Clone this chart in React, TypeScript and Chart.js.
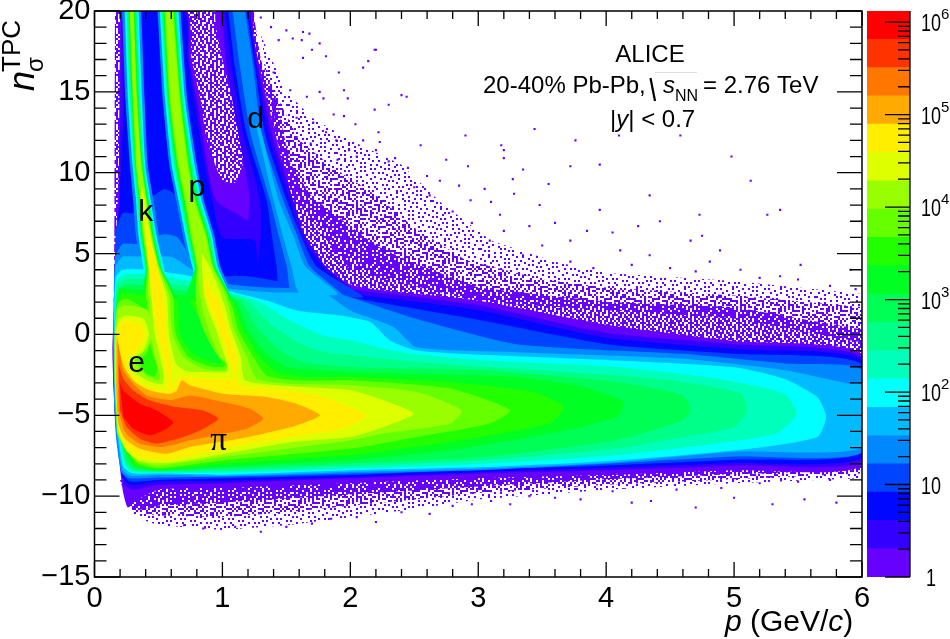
import React, { useEffect, useRef } from "react";
import { Chart, registerables } from "chart.js";
Chart.register(...registerables);

type Pt = number[];
const FONT = '"Liberation Sans", Arial, sans-serif';

const levelColors = ["#6600ff","#3300ff","#0008ff","#0044ff","#0088ff","#00bbff","#00ffff","#00ffbb","#00ff88","#00ff55","#00ff22","#22ff00","#66ff00","#99ff00","#ddff00","#ffee00","#ffaa00","#ff7700","#ff3300","#ff0000"];
const zEdges = [1,2.023,4.09,8.28,16.7,33.9,68.5,138.6,280,567,1148,2323,4699,9506,19230,38900,78700,159200,322000,651000,1318000];
const zDecades = [1,10,100,1000,10000,100000,1000000];
const particleLabels = [{t:"d",x:1.26,y:13.3},{t:"p",x:0.8,y:9.1},{t:"k",x:0.4,y:7.6},{t:"e",x:0.33,y:-1.75},{t:"π",x:0.97,y:-6.6}];

const stippleDense = [
"#.##.#..###.#.##..#.#.##",
".##.###.#.##.#..###.##.#",
"##.#..##.##.###.#.##..##",
"#.###.#..#.##.#.##.#.##.",
".#.#.###.##.#..##.###.#.",
"##.##.#.##..###.#..#.###",
"#..#.##.#.###.#.###.##.#",
".###.#.##.#.#.##.#.#.##.",
"##.#.##..##.#.#.##.###.#",
".#.##.#.###.##..#.#.#.##",
"#.#.###.#.#.#.###.##.#.#",
"###.#..##.###.#.#.#.##..",
".#.##.##.#.#.##.##.#.###",
"#.##.#.#.###.#..#.###.#.",
"##.#.###.#.##.###.#..##.",
".##.#.#.##.#.#.#.##.##.#",
"#.###.##.#.##.##.#.#.#.#",
"##.#.#..###.#.#.###.#.##",
".#.###.#.#.###.##.#.##.#",
"#.#.#.##.##.#.#..##.#.##",
"###.##.#.#.#.###.#.##.#.",
".#.#.#.###.##.#.##.#.###",
"##.##.#.#.##.#.#.###.#.#",
"#.#.###.##.#.###.#.#.##."
];
const stippleMedium = [
"#..#.#....##.#...#.#..#.",
"..#...#.#....#.#.....#.#",
".#..#.....#.#....##.#...",
"#...#.##.#.....#....#..#",
"..#.....#...##...#.#..#.",
".#.#.#....#....#.#....#.",
"#....##.#...#.#....#.#..",
"..#.....#.#.....##...#.#",
".#.#.#.....##.#....#....",
"#.....#.#.#....#.#...#.#",
"..##.#....#.#.....#.#...",
"#.....#.#....#.#.#....#.",
".#.#.#...#.#.....#..#...",
"...#...#.....##.#...#.##",
"#.#..#...#.#.....#.#....",
"....#..#...#.#.#....#.#.",
".##...#..#....#...#.....",
"#...#....##.#....#.#.#.#",
"..#..#.#.....#.#.....#..",
".#......#.#.#....##.#...",
"#..#.#.#....#..#.....#.#",
"...#...#.#.....#.#.#....",
".#...#....#.##....#..#.#",
"#..#...#.#....#.#...#..."
];
const stippleSparse = [
"#.....#....#..#.......#.",
"...#.....#......#.#.....",
".#....#.....#........#..",
"....#....#.....#..#.....",
"#.........#.#.......#..#",
"..#.#.........#.#.......",
".......#..#.........#...",
".#..#........#..#.......",
"....#..#..#.......#..#..",
"#...........#.#.........",
"..#...#.#........#..#...",
".....#......#.#.......#.",
"#.#......#.......#.#....",
"....#.#.....#.#.........",
"..........#.......#..#.#",
".#...#.#.......#........",
"...#......#.#......#....",
"#......#.........#....#.",
"..#.#.....#..#..........",
"......#........#..#.#...",
".#.........#.#.........#",
"....#..#.#......#..#....",
"#.#.........#.......#...",
"......#.#.......#.#....."
];

const sparseUpper: Pt[] = [[1.3,18.5],[1.5,15],[1.7,13.4],[2,12],[2.4,10.5],[2.7,8.2],[3.1,5.8],[3.6,4.5],[4,3.8],[5,3.3],[6,2.5],[6,-0.5],[5,1],[3,2],[2,4],[1.5,9]];
const sparseLower: Pt[] = [[0.25,-10],[0.32,-11.3],[0.5,-11.8],[1,-12.1],[1.5,-11.8],[2,-11.3],[2.5,-10.8],[3,-10.2],[4,-9.6],[5,-9.2],[6,-8.9],[6,-8],[1,-9]];
const mediumUpper: Pt[] = [[1.32,17],[1.44,14.5],[1.6,12],[1.85,10.4],[2.2,8.6],[2.5,6.6],[2.9,4.6],[3.5,3.4],[4,2.9],[5,2.4],[6,1.7],[6,-0.5],[5,1],[3,2],[2,4],[1.5,9]];
const mediumLower: Pt[] = [[0.25,-10],[0.32,-11],[0.5,-11.2],[1,-11.3],[1.5,-11],[2,-10.6],[2.5,-10.2],[3,-9.8],[4,-9.3],[5,-8.95],[6,-8.6],[6,-8],[1,-9]];
const denseUpper: Pt[] = [[0.7,20],[1.24,20],[1.3,17],[1.42,14.5],[1.53,10.6],[1.7,8.5],[1.95,7],[2.2,5.5],[2.5,4.4],[3,2.9],[4,2],[5,1.7],[6,0.3],[6,-1.5],[2,2.5],[1.2,5],[0.9,9],[0.75,15]];
const denseLower: Pt[] = [[0.2,-9],[6,-8],[6,-8.4],[5,-8.65],[4,-8.95],[3,-9.4],[2,-9.9],[1,-10.4],[0.5,-10.6],[0.32,-10.9],[0.26,-10.6]];
const denseLeft: Pt[] = [[0.16,20],[0.24,20],[0.24,6],[0.15,2],[0.155,6]];

const outliers: Pt[] = [[1.3,19.6],[1.38,19],[1.44,18.2],[1.5,18.8],[1.63,18.7],[1.68,18.6],[1.55,18.3],[1.62,18.2],[1.76,18],[2.2,17.6],[1.7,17.6],[1.81,17.2],[2.14,16.9],[1.63,17.1],[1.91,16.2],[2.1,16.5],[1.4,16.2],[1.53,15.1],[1.76,15],[1.95,15.1],[1.79,14.6],[1.98,14.6],[1.42,14.2],[1.66,14.7],[2.19,13.9],[2.3,14.2],[1.87,13.6],[1.95,13.5],[1.58,13.4],[1.71,13.1],[2.04,13],[1.81,12.5],[1.58,12.2],[2.1,12],[2.23,11.9],[1.69,11.8],[1.89,12],[1.99,11.4],[2.19,17.6],[2.4,14.8],[2.44,14.7],[2.22,12.5],[2.55,11.7],[2.9,12.3],[3.2,11.4],[3.18,11.7],[3.44,12.7],[3.72,10.4],[3.95,10.5],[3.76,12],[4.98,11],[4.1,12.3],[4.58,12.3],[3.27,9.6],[2.94,8.3],[3.17,7.4],[3.48,8],[3.95,7.7],[4.34,8.6],[4.42,7],[4.73,7.4],[5.26,7.4],[5.13,9.5],[5.36,7.7],[4.66,5.8],[4.11,5.2],[3.72,5.8],[3.4,6.7],[2.7,9.5],[3.09,5.8],[4.34,4.9],[4.89,5.2],[5.52,4.3],[5.91,4],[3.72,4.5],[4.81,4.5],[5.36,3.6],[2.45,10.3],[2.6,9.8],[2.75,10.8],[2.85,9.2],[2.5,9.1],[2.35,10.9],[2.62,8.6],[2.92,10.4],[3.05,9],[3.1,8.2],[3.28,8.7],[2.8,7.6],[2.95,6.9],[3.2,6.4],[3.5,5.5],[3.6,6.9],[3.85,6.4],[4.05,6.3],[4.2,4.3],[4.5,4.1],[4.7,3.9],[5.05,4],[5.2,3.5],[5.5,3.4],[5.75,3],[5.95,2.8],[3.35,4.9],[3.9,4.1],[3.2,10.9],[3.35,10.2],[2.2,11.4],[2.3,10.7],[2.05,11],[1.9,10.8],[3.55,9.3],[4.25,6.7],[4.75,6.1],
[1.1,-11.9],[1.3,-12.2],[1.5,-11.9],[0.85,-12],[0.7,-11.8],[1.7,-11.7],[1.85,-11.4],[2.05,-11.3],[2.2,-11.6],[2.4,-11],[2.62,-11.1],[2.8,-10.6],[2.95,-10.5],[3.1,-10.3],[3.25,-10.5],[3.4,-10],[3.6,-10.1],[3.8,-10.2],[4.05,-9.7],[4.2,-10.4],[4.35,-10.3],[4.7,-10.7],[5,-10.1],[5.3,-10.5],[5.55,-10.2],[5.8,-10.4],[4.55,-9.6],[4.9,-9.5],[5.2,-9.2],[5.5,-9.1],[5.75,-9]];

const band1Main: Pt[] = [[0.2,20],[0.72,20],[0.76,17],[0.83,14.5],[0.88,12],[1,9.5],[1.1,9.4],[1.17,11],[1.1,14],[1,17],[0.95,20],[1.24,20],[1.24,18.6],[1.35,14.5],[1.48,10.4],[1.63,6.2],[1.79,4.2],[2,3.1],[2.18,2.8],[3,2.1],[4,0.6],[5,-0.4],[6,-1.2],[6,-8.1],[5,-8.4],[4,-8.7],[3,-8.9],[2,-9.2],[1,-9.5],[0.5,-9.6],[0.32,-10.3],[0.26,-10.7],[0.22,-9.6],[0.16,-5],[0.14,-1],[0.155,2],[0.165,5],[0.19,10]];
const band2Main: Pt[] = [[0.21,20],[0.71,20],[0.74,17],[0.8,14.5],[0.87,11],[0.95,8.3],[1.2,7],[1.25,6],[1.3,4],[1.6,3.1],[2,2.8],[3,1.8],[4,0.1],[5,-0.6],[6,-1.4],[6,-7.8],[5,-8.1],[4,-8.4],[3,-8.6],[2,-8.9],[1,-9.2],[0.5,-9.3],[0.3,-9.6],[0.23,-9.3],[0.18,-6],[0.15,-3],[0.15,0],[0.165,3],[0.19,8],[0.2,12.4]];
const band2Deut: Pt[] = [[0.994,20],[1.033,16.5],[1.125,12.4],[1.216,8.3],[1.2,7],[1.2,3.5],[2,2.8],[1.81,4.2],[1.64,6.2],[1.555,8.3],[1.385,12.4],[1.281,16.5],[1.216,20]];
const band3Main: Pt[] = [[0.24,20],[0.7,20],[0.73,17],[0.78,14.5],[0.85,11],[0.92,8.3],[1,6],[1.25,5.8],[1.3,3.6],[1.6,2.9],[2,2.5],[3,1.5],[4,-0.2],[5,-0.9],[6,-1.6],[6,-7.6],[5,-7.95],[4,-8.25],[3,-8.5],[2,-8.8],[1,-9.05],[0.5,-9.1],[0.3,-9.3],[0.23,-9],[0.17,-6],[0.15,-3],[0.155,0],[0.17,5],[0.2,9],[0.23,14]];
const band3Deut: Pt[] = [[1.02,20],[1.073,16.5],[1.164,12.4],[1.294,8.3],[1.3,6.2],[1.3,3.5],[2,2.5],[1.78,4.2],[1.607,6.2],[1.529,8.3],[1.359,12.4],[1.268,16.5],[1.203,20]];
const band4Main: Pt[] = [[0.165,6.5],[0.22,7.5],[0.3,7.5],[0.4,8],[0.45,8.5],[0.55,9],[0.65,8.5],[0.75,6],[0.85,4],[0.9,3.6],[1.2,3.6],[1.74,2.8],[2,2.3],[2.5,1.6],[3,0.9],[4,-0.6],[5,-1.2],[6,-1.85],[6,-7.3],[5,-7.75],[4,-8.1],[3,-8.35],[2,-8.7],[1,-8.9],[0.5,-9],[0.28,-9.1],[0.22,-8.6],[0.175,-6],[0.15,-3],[0.15,0],[0.155,3]];
const band4Deut: Pt[] = [[1.046,20],[1.099,16.5],[1.19,12.4],[1.346,8.3],[1.385,6.2],[1.424,4.2],[1.45,3],[2.1,2.3],[1.737,4.2],[1.61,6.2],[1.503,8.3],[1.333,12.4],[1.255,16.5],[1.19,20]];
const band5Main: Pt[] = [[0.16,4.8],[0.22,5.6],[0.33,5.6],[0.45,6],[0.55,6.2],[0.65,6],[0.8,4.2],[1,3.2],[1.35,2.9],[1.8,2.8],[2,2.3],[2.5,1],[3.3,-0.6],[4.6,-1.2],[5.4,-1.8],[6,-2.2],[6,-7.3],[5,-7.55],[4,-8],[3,-8.4],[2,-8.6],[1,-8.8],[0.5,-8.85],[0.27,-8.9],[0.21,-8.5],[0.17,-6.5],[0.155,-4.5],[0.148,-1],[0.15,2]];
const band5Deut: Pt[] = [[1.08,20],[1.138,16.5],[1.221,12.4],[1.372,8.3],[1.437,6.2],[1.503,4.2],[1.55,2.4],[1.95,2.3],[1.685,4.2],[1.581,6.2],[1.476,8.3],[1.307,12.4],[1.242,16.5],[1.177,20]];
const band5K: Pt[] = [[0.216,20],[0.242,14.5],[0.278,10.4],[0.302,8.3],[0.323,6.2],[0.36,4.2],[0.399,2.1],[0.599,2.1],[0.56,4.2],[0.503,6.2],[0.462,8.3],[0.418,10.4],[0.392,14.5],[0.366,20]];
const band5P: Pt[] = [[0.493,20],[0.534,14.5],[0.587,10.4],[0.639,8.3],[0.69,6.2],[0.744,4.2],[0.825,2.1],[1.085,2.1],[0.984,4.2],[0.934,6.2],[0.855,8.3],[0.803,10.4],[0.726,14.5],[0.673,20]];
const band6Main: Pt[] = [[0.16,4.2],[0.22,4.8],[0.4,4.8],[0.6,4.8],[0.8,3.8],[1,2.9],[1.4,2.6],[1.8,2.5],[2,1.48],[2.34,0.45],[2.52,-0.8],[3.3,-1.1],[4.6,-1.5],[5.39,-2.2],[5.9,-3.05],[6,-3.1],[6,-7],[5,-7.25],[4,-7.95],[3,-8.3],[2,-8.5],[1,-8.75],[0.5,-8.7],[0.28,-8.75],[0.22,-8.4],[0.18,-6.5],[0.16,-4.5],[0.15,-1],[0.15,2]];
const band6Deut: Pt[] = [[1.26,13],[1.4,8.3],[1.47,6.2],[1.54,4.2],[1.6,2.6],[1.9,2.5],[1.65,4.2],[1.55,6.2],[1.44,8.3],[1.29,13]];
const band7Main: Pt[] = [[0.165,3.6],[0.22,4],[0.44,4],[0.6,3.8],[0.75,3.6],[0.9,3],[1.346,2.1],[1.581,1.48],[1.92,1.17],[2,1.07],[2.16,0.76],[2.31,-0.37],[2.52,-0.99],[3.04,-1.26],[4.08,-1.61],[4.99,-2.02],[5.39,-2.74],[5.65,-3.87],[5.72,-5.11],[5.65,-6.35],[5.13,-7.07],[4.08,-7.79],[3.04,-8.2],[2,-8.4],[1,-8.67],[0.5,-8.6],[0.3,-8.6],[0.226,-8.2],[0.19,-6.5],[0.166,-4.5],[0.155,-1],[0.155,2]];
const band7K: Pt[] = [[0.236,20],[0.262,14.5],[0.298,10.4],[0.324,8.3],[0.343,6.2],[0.38,4.2],[0.414,2.1],[0.584,2.1],[0.54,4.2],[0.483,6.2],[0.44,8.3],[0.398,10.4],[0.372,14.5],[0.346,20]];
const band7P: Pt[] = [[0.51,20],[0.552,14.5],[0.605,10.4],[0.657,8.3],[0.708,6.2],[0.764,4.2],[0.845,2.1],[1.065,2.1],[0.964,4.2],[0.916,6.2],[0.837,8.3],[0.785,10.4],[0.708,14.5],[0.656,20]];
const band8Main: Pt[] = [[0.17,3.3],[0.23,3.7],[0.44,3.7],[0.6,3.5],[0.75,3.3],[0.9,2.9],[1.268,2.1],[1.529,0.86],[1.789,-0.06],[2,-0.36],[2.26,-0.88],[2.52,-1.23],[3.04,-1.6],[4.08,-2.01],[4.86,-2.73],[5.39,-3.66],[5.49,-4.9],[5.33,-6.13],[4.86,-6.75],[4.08,-7.47],[3.04,-7.99],[2,-8.3],[1,-8.55],[0.5,-8.55],[0.3,-8.5],[0.24,-8.1],[0.2,-6.5],[0.17,-4.5],[0.16,-1],[0.16,2]];
const band9Main: Pt[] = [[0.175,3],[0.24,3.4],[0.44,3.4],[0.6,3.1],[0.75,3],[0.9,2.8],[1.19,2.1],[1.372,0.66],[1.607,-0.58],[1.789,-1.09],[2,-1.29],[2.52,-1.7],[3.3,-2.12],[4.08,-2.53],[4.6,-2.94],[5.05,-3.66],[5.1,-4.69],[5,-5.72],[4.6,-6.34],[4.08,-7.06],[3.04,-7.78],[2,-8.15],[1,-8.45],[0.5,-8.5],[0.3,-8.4],[0.24,-7.9],[0.205,-6.5],[0.175,-4.5],[0.165,-1],[0.165,2]];
const band9K: Pt[] = [[0.251,20],[0.277,14.5],[0.308,10.4],[0.335,8.3],[0.356,6.2],[0.393,4.2],[0.424,2.1],[0.574,2.1],[0.527,4.2],[0.47,6.2],[0.429,8.3],[0.388,10.4],[0.357,14.5],[0.331,20]];
const band9P: Pt[] = [[0.525,20],[0.566,14.5],[0.623,10.4],[0.673,8.3],[0.722,6.2],[0.776,4.2],[0.858,2.1],[1.052,2.1],[0.952,4.2],[0.902,6.2],[0.821,8.3],[0.767,10.4],[0.694,14.5],[0.641,20]];
const band10Main: Pt[] = [[0.18,2.8],[0.25,3.1],[0.44,3],[0.6,2.8],[0.75,2.7],[0.9,2.6],[1.138,2.1],[1.268,0.45],[1.45,-0.99],[1.633,-1.71],[2,-2.01],[3.04,-2.22],[4.08,-2.94],[4.6,-3.76],[4.66,-4.69],[4.6,-5.31],[4.08,-6.54],[3.04,-7.57],[2,-7.99],[1,-8.3],[0.5,-8.45],[0.3,-8.3],[0.25,-7.8],[0.21,-6.5],[0.18,-4.5],[0.168,-1],[0.17,2]];
const band11Main: Pt[] = [[0.19,2.9],[0.44,2.7],[0.6,2.5],[0.75,2.4],[0.9,2.4],[1.099,2.1],[1.203,0.25],[1.346,-1.2],[1.503,-2.02],[2,-2.32],[3.3,-2.63],[3.82,-3.25],[4.14,-4.18],[4.08,-5.1],[3.56,-6.13],[2.78,-7.16],[2,-7.78],[1,-8.2],[0.5,-8.4],[0.32,-8.2],[0.26,-7.6],[0.215,-6.5],[0.183,-4.5],[0.17,-1],[0.175,2]];
const band11K: Pt[] = [[0.264,20],[0.29,14.5],[0.318,10.4],[0.345,8.3],[0.366,6.2],[0.403,4.2],[0.38,2.1],[0.64,2.1],[0.517,4.2],[0.46,6.2],[0.419,8.3],[0.378,10.4],[0.344,14.5],[0.318,20]];
const band11P: Pt[] = [[0.536,20],[0.576,14.5],[0.637,10.4],[0.687,8.3],[0.737,6.2],[0.787,4.2],[0.72,2.1],[1.07,2.1],[0.941,4.2],[0.887,6.2],[0.807,8.3],[0.753,10.4],[0.684,14.5],[0.63,20]];
const band12Main: Pt[] = [[0.2,2.6],[0.44,2.4],[0.6,2.3],[0.648,2.1],[0.669,0.04],[0.773,-1.2],[0.968,-1.81],[0.994,-1.61],[0.903,-0.37],[0.825,0.86],[0.747,2.1],[0.8,2.2],[0.9,2.3],[1.073,2.1],[1.164,0.25],[1.294,-1.4],[1.424,-2.33],[1.659,-2.64],[2,-2.63],[2.78,-2.94],[3.43,-3.56],[3.67,-4.48],[3.56,-5.51],[2.78,-6.65],[2,-7.47],[1,-8],[0.5,-8.35],[0.33,-8.1],[0.27,-7.4],[0.22,-6.5],[0.186,-4.5],[0.172,-1],[0.18,1.8]];
const band13Main: Pt[] = [[0.41,2.1],[0.42,0.6],[0.44,-0.8],[0.49,-2.1],[0.47,-2.6],[0.4,-2.4],[0.36,-1.9],[0.37,-1.5],[0.42,-1],[0.41,0.04],[0.39,1.5],[0.25,2.2],[0.18,1.9],[0.158,0.04],[0.158,-3],[0.168,-4.5],[0.18,-6.2],[0.26,-7.2],[0.33,-7.95],[0.5,-8.26],[1,-7.79],[2,-7.06],[2.52,-6.34],[3.09,-5.51],[3.25,-4.69],[2.78,-3.35],[2,-2.84],[1.581,-2.84],[1.346,-2.54],[1.242,-1.4],[1.125,0.25],[1.05,2.1],[0.799,2.1],[0.864,0.04],[0.968,-1.4],[1.02,-1.81],[1.007,-2.02],[0.877,-1.92],[0.734,-1.4],[0.635,0.04],[0.617,2.1]];
const band13K: Pt[] = [[0.274,20],[0.3,14.5],[0.326,10.4],[0.355,8.3],[0.376,6.2],[0.413,4.2],[0.41,2.1],[0.617,2.1],[0.507,4.2],[0.45,6.2],[0.409,8.3],[0.37,10.4],[0.334,14.5],[0.308,20]];
const band13P: Pt[] = [[0.548,20],[0.587,14.5],[0.652,10.4],[0.705,8.3],[0.749,6.2],[0.799,4.2],[0.8,2.1],[1.05,2.1],[0.929,4.2],[0.875,6.2],[0.789,8.3],[0.738,10.4],[0.673,14.5],[0.618,20]];
const band14Main: Pt[] = [[0.43,2.1],[0.434,0.25],[0.473,-1.4],[0.512,-2.54],[0.499,-2.84],[0.408,-2.54],[0.343,-2.02],[0.317,-1.61],[0.356,-1.3],[0.421,-0.78],[0.447,0.04],[0.413,1.5],[0.252,1.8],[0.187,1.6],[0.16,0.04],[0.16,-3],[0.17,-4.5],[0.183,-6.14],[0.245,-7],[0.34,-7.85],[0.5,-8.1],[1,-7.58],[2,-6.54],[2.26,-6.13],[2.78,-5.51],[2.87,-4.69],[2.52,-3.56],[2,-3.14],[1.529,-3.05],[1.268,-2.74],[1.19,-1.4],[1.086,0.45],[1.03,2.1],[0.838,2.1],[0.903,0.04],[0.981,-1.4],[1.039,-1.81],[1.02,-2.23],[0.851,-2.12],[0.695,-1.4],[0.609,0.04],[0.59,2.1]];
const band14K: Pt[] = [[0.279,20],[0.305,14.5],[0.33,10.4],[0.36,8.3],[0.383,6.2],[0.42,4.2],[0.43,2.1],[0.59,2.1],[0.5,4.2],[0.443,6.2],[0.404,8.3],[0.366,10.4],[0.329,14.5],[0.303,20]];
const band14P: Pt[] = [[0.557,20],[0.594,14.5],[0.662,10.4],[0.717,8.3],[0.76,6.2],[0.807,4.2],[0.838,2.1],[1.03,2.1],[0.921,4.2],[0.864,6.2],[0.777,8.3],[0.728,10.4],[0.666,14.5],[0.609,20]];
const band15Main: Pt[] = [[0.45,2.1],[0.465,0.25],[0.512,-1.4],[0.544,-2.64],[0.525,-3.09],[0.408,-2.84],[0.317,-2.33],[0.278,-1.71],[0.304,-1.44],[0.382,-0.99],[0.426,0.04],[0.382,0.97],[0.252,1.17],[0.194,0.97],[0.163,0.04],[0.163,-3.05],[0.173,-4.49],[0.187,-6.04],[0.246,-7.17],[0.356,-7.83],[0.564,-7.95],[0.799,-7.69],[1.138,-7.21],[1.53,-6.66],[2,-6.34],[2.26,-5.72],[2.495,-4.9],[2.26,-4.07],[2,-3.45],[1.529,-3.21],[1.177,-2.84],[1.143,-1.4],[1.06,0.45],[1,2.1],[0.87,2.1],[0.942,0.45],[1.02,-1.4],[1.04,-2.3],[0.851,-2.33],[0.721,-2.27],[0.637,-1.81],[0.583,0.04],[0.57,2.1]];
const band15K: Pt[] = [[0.365,9.3],[0.368,8.3],[0.391,6.2],[0.43,4.2],[0.45,2.1],[0.57,2.1],[0.49,4.2],[0.435,6.2],[0.396,8.3]];
const band15P: Pt[] = [[0.84,5],[0.84,4.2],[0.87,2.1],[1,2.1],[0.9,4.2]];
const band16Main: Pt[] = [[0.408,6.65],[0.418,4.59],[0.442,3.15],[0.46,1.48],[0.486,0.45],[0.538,-1.4],[0.57,-2.84],[0.551,-3.42],[0.408,-3.21],[0.304,-2.6],[0.26,-1.98],[0.252,-1.5],[0.291,-1.3],[0.356,-0.78],[0.395,0.04],[0.356,0.66],[0.252,0.86],[0.194,0.66],[0.168,-0.17],[0.168,-3.05],[0.179,-4.49],[0.194,-5.93],[0.252,-6.96],[0.356,-7.58],[0.564,-7.75],[0.747,-7.48],[1.007,-7.07],[1.53,-6.35],[1.946,-5.83],[2.128,-5.01],[1.789,-3.87],[1.529,-3.46],[1.125,-3.09],[1.112,-1.4],[1.039,0.45],[0.968,2.1],[0.916,2.72],[0.856,3.36],[0.882,2.1],[0.968,0.45],[1.047,-1.4],[1.086,-2.68],[0.851,-2.74],[0.721,-2.6],[0.656,-2.68],[0.617,-3.42],[0.603,-2.02],[0.559,0.04],[0.551,1.48],[0.52,3.15],[0.481,4.59]];
const band17Main: Pt[] = [[0.173,0.04],[0.2,-1.2],[0.239,-2.12],[0.317,-2.95],[0.434,-3.46],[0.59,-3.67],[0.643,-3.46],[0.682,-2.84],[0.747,-3.15],[1.007,-3.67],[1.346,-3.87],[1.58,-4.29],[1.763,-5],[1.58,-5.63],[1.32,-6.14],[1.06,-6.55],[0.747,-6.96],[0.564,-7.38],[0.356,-7.07],[0.239,-6.45],[0.187,-5.52],[0.168,-3.05]];
const band18Main: Pt[] = [[0.181,-0.37],[0.2,-1.2],[0.226,-2.23],[0.304,-3.05],[0.408,-3.77],[0.6,-4.05],[0.747,-3.77],[1.007,-4.18],[1.216,-4.6],[1.32,-5.21],[1.19,-5.83],[1.007,-6.14],[0.747,-6.55],[0.538,-6.96],[0.356,-6.76],[0.239,-6.04],[0.187,-4.7]];
const band19Main: Pt[] = [[0.187,-1.81],[0.226,-2.74],[0.304,-3.46],[0.434,-4.08],[0.643,-4.49],[0.851,-4.7],[0.968,-5.21],[0.851,-5.83],[0.695,-6.35],[0.486,-6.76],[0.356,-6.45],[0.252,-5.73],[0.2,-4.7]];
const band20Main: Pt[] = [[0.194,-2.84],[0.226,-3.46],[0.356,-4.29],[0.486,-4.7],[0.617,-5.42],[0.564,-5.83],[0.434,-6.24],[0.304,-5.83],[0.226,-5.11]];

const contourLayers: [number, Pt[]][] = [
  [1,band1Main],[2,band2Main],[2,band2Deut],[3,band3Main],[3,band3Deut],[4,band4Main],[4,band4Deut],
  [5,band5Main],[5,band5Deut],[5,band5K],[5,band5P],[6,band6Main],[6,band6Deut],
  [7,band7Main],[7,band7K],[7,band7P],[8,band8Main],[9,band9Main],[9,band9K],[9,band9P],
  [10,band10Main],[11,band11Main],[11,band11K],[11,band11P],[12,band12Main],
  [13,band13Main],[13,band13K],[13,band13P],[14,band14Main],[14,band14K],[14,band14P],
  [15,band15Main],[15,band15K],[15,band15P],[16,band16Main],[17,band17Main],[18,band18Main],[19,band19Main],[20,band20Main],
];

function tile(rows: string[]) {
  const c = document.createElement("canvas");
  c.width = rows[0].length * 2; c.height = rows.length * 2;
  const g = c.getContext("2d")!;
  g.fillStyle = "#6600ff";
  rows.forEach((r, j) => [...r].forEach((ch, i) => { if (ch === "#") g.fillRect(i * 2, j * 2, 2, 2); }));
  return g.createPattern(c, "repeat")!;
}
const xy = (p: Pt[]) => p.map(([x, y]) => ({ x, y }));
function poly(p: Pt[], color: any, order: number, tension = 0.2) {
  return { data: xy(p), showLine: true, fill: "shape", backgroundColor: color, borderColor: "rgba(0,0,0,0)", borderWidth: 0, pointRadius: 0, tension, order };
}

function text(ctx: CanvasRenderingContext2D, s: string, x: number, y: number, font: string, align: CanvasTextAlign = "left", maxW?: number) {
  ctx.font = font; ctx.textAlign = align; ctx.textBaseline = "alphabetic"; ctx.fillStyle = "#000";
  if (maxW) ctx.fillText(s, x, y, maxW); else ctx.fillText(s, x, y);
  return ctx.measureText(s).width;
}

const framePlugin = {
  id: "frame",
  afterDatasetsDraw(chart: any) {
    const { ctx, chartArea: a, scales: { x, y } } = chart;
    ctx.save();
    ctx.strokeStyle = "#000"; ctx.lineWidth = 1.5;
    ctx.strokeRect(a.left, a.top, a.right - a.left, a.bottom - a.top);
    ctx.lineWidth = 1.3;
    ctx.beginPath();
    for (let i = 0; i <= 30; i++) {
      const px = x.getPixelForValue(i * 0.2), len = i % 5 === 0 ? 15 : 8;
      ctx.moveTo(px, a.bottom); ctx.lineTo(px, a.bottom - len);
      ctx.moveTo(px, a.top); ctx.lineTo(px, a.top + len);
    }
    for (let v = -15; v <= 20; v++) {
      const py = y.getPixelForValue(v), len = v % 5 === 0 ? 25 : 12;
      ctx.moveTo(a.left, py); ctx.lineTo(a.left + len, py);
      ctx.moveTo(a.right, py); ctx.lineTo(a.right - len, py);
    }
    ctx.stroke();
    for (const l of particleLabels) {
      const f = l.t === "π" ? '33px "Liberation Serif", serif' : `30px ${FONT}`;
      text(ctx, l.t, x.getPixelForValue(l.x), y.getPixelForValue(l.y) + 9, f, "center");
    }
    // header
    const f24 = `24px ${FONT}`, i24 = `italic 24px ${FONT}`;
    text(ctx, "ALICE", 650, 62, f24, "center");
    text(ctx, "20-40% Pb-Pb,", 483, 93, f24);
    ctx.strokeStyle = "#000"; ctx.lineWidth = 2.2; ctx.beginPath(); ctx.moveTo(650.5, 78); ctx.lineTo(655, 101); ctx.stroke();
    ctx.lineWidth = 1; ctx.strokeStyle = "#ddd"; ctx.beginPath(); ctx.moveTo(655, 72.5); ctx.lineTo(697, 72.5); ctx.stroke();
    text(ctx, "s", 663, 93, i24);
    text(ctx, "NN", 675, 101, `16px ${FONT}`);
    text(ctx, "= 2.76 TeV", 703, 93, f24);
    let cx = 610;
    cx += text(ctx, "|", cx, 127, f24);
    cx += text(ctx, "y", cx, 127, i24);
    cx += text(ctx, "| < 0.7", cx, 127, f24);
    // x title
    let tx = 725;
    tx += text(ctx, "p", tx, 631, `italic 30px ${FONT}`);
    tx += text(ctx, " (GeV/", tx, 631, `30px ${FONT}`);
    tx += text(ctx, "c", tx, 631, `italic 30px ${FONT}`);
    text(ctx, ")", tx, 631, `30px ${FONT}`);
    // y title
    ctx.save();
    ctx.translate(34, 91); ctx.rotate(-Math.PI / 2);
    text(ctx, "n", 0, 0, `italic 36px ${FONT}`);
    text(ctx, "σ", 19, 9, `24px ${FONT}`);
    text(ctx, "TPC", 19, -14, `26px ${FONT}`);
    ctx.restore();
    ctx.restore();
  },
};

const barPlugin = {
  id: "zaxis",
  afterDatasetsDraw(chart: any) {
    const { ctx, chartArea: a, scales: { y } } = chart;
    ctx.save();
    ctx.strokeStyle = "#000"; ctx.lineWidth = 1.3;
    ctx.beginPath();
    ctx.moveTo(a.right, a.top); ctx.lineTo(a.right, a.bottom);
    zDecades.forEach((d) => {
      [1,2,3,4,5,6,7,8,9].forEach((m) => {
        const v = d * m;
        if (v > 1318000) return;
        const py = y.getPixelForValue(v);
        ctx.moveTo(a.right, py); ctx.lineTo(a.right - (m === 1 ? 25 : 12), py);
      });
    });
    ctx.stroke();
    zDecades.forEach((d, i) => {
      const py = y.getPixelForValue(d) + 9;
      if (i === 0) { text(ctx, "1", 66, py, `23px ${FONT}`, "left", 10); return; }
      text(ctx, "10", 61, py, `23px ${FONT}`, "left", 20);
      if (i > 1) text(ctx, String(i), 81, py - 12, `15px ${FONT}`, "left", 8.5);
    });
    ctx.restore();
  },
};

export default function App() {
  const mainRef = useRef<HTMLCanvasElement>(null);
  const barRef = useRef<HTMLCanvasElement>(null);
  useEffect(() => {
    const dense = tile(stippleDense), medium = tile(stippleMedium), sparse = tile(stippleSparse);
    const datasets: any[] = [
      poly(sparseUpper, sparse, 310, 0), poly(sparseLower, sparse, 309, 0),
      poly(mediumUpper, medium, 308, 0), poly(mediumLower, medium, 307, 0),
      poly(denseUpper, dense, 306, 0), poly(denseLower, dense, 305, 0), poly(denseLeft, dense, 304, 0),
      { data: xy(outliers), backgroundColor: "#6600ff", borderWidth: 0, pointStyle: "rect", pointRadius: 1.5, showLine: false, order: 296 },
    ];
    contourLayers.forEach(([lvl, shape], i) => datasets.push(poly(shape, levelColors[lvl - 1], 200 - i)));
    const font = { family: "Liberation Sans", size: 29 };
    const main = new Chart(mainRef.current!, {
      type: "scatter",
      data: { datasets },
      plugins: [framePlugin],
      options: {
        animation: false, responsive: false, events: [],
        layout: { padding: { top: 11, right: 88, bottom: 0, left: 0 } },
        plugins: { legend: { display: false }, tooltip: { enabled: false } },
        scales: {
          x: {
            type: "linear", min: 0, max: 6,
            grid: { display: false, drawTicks: false }, border: { display: false },
            ticks: { stepSize: 1, color: "#000", font, padding: 5, maxRotation: 0, autoSkip: false },
            afterFit(s: any) { s.height = 62; s.paddingLeft = 0; s.paddingRight = 0; },
          },
          y: {
            type: "linear", min: -15, max: 20,
            grid: { display: false, drawTicks: false }, border: { display: false },
            ticks: { stepSize: 5, color: "#000", font, padding: 4, autoSkip: false, callback: (v: any) => String(v).replace("-", "\u2212") },
            afterFit(s: any) { s.width = 94.5; s.paddingTop = 0; s.paddingBottom = 0; },
          },
        },
      } as any,
    });
    const bars = new Chart(barRef.current!, {
      type: "bar",
      data: {
        labels: ["z"],
        datasets: levelColors.map((c, i) => ({ data: [[zEdges[i], zEdges[i + 1]]], backgroundColor: c, borderWidth: 0, barPercentage: 1, categoryPercentage: 1, grouped: false })),
      },
      plugins: [barPlugin],
      options: {
        animation: false, responsive: false, events: [],
        layout: { padding: { top: 11, right: 40, bottom: 62, left: 7 } },
        plugins: { legend: { display: false }, tooltip: { enabled: false } },
        scales: {
          x: { display: false },
          y: { type: "logarithmic", min: 1, max: 1318000, display: false },
        },
      } as any,
    });
    return () => { main.destroy(); bars.destroy(); };
  }, []);
  return (
    <div style={{ position: "absolute", left: 0, top: 0, width: 950, height: 639, background: "#fff", overflow: "hidden" }}>
      <canvas ref={mainRef} width={950} height={639} style={{ position: "absolute", left: 0, top: 0 }} />
      <canvas ref={barRef} width={90} height={639} style={{ position: "absolute", left: 860, top: 0 }} />
    </div>
  );
}
